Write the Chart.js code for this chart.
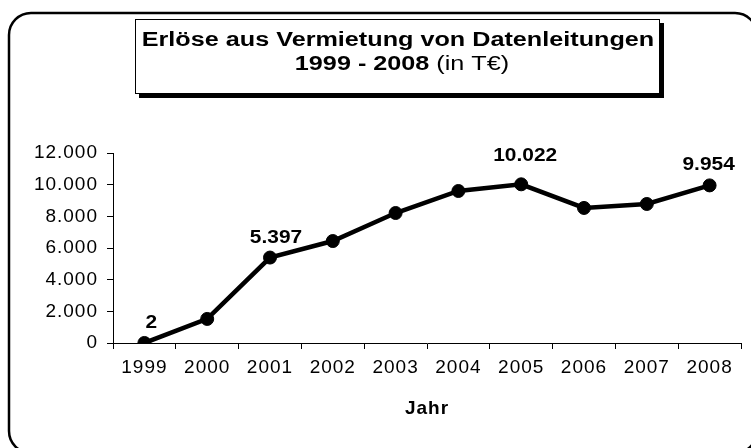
<!DOCTYPE html>
<html>
<head>
<meta charset="utf-8">
<script src="https://cdn.jsdelivr.net/npm/chart.js@4"></script>
<style>
    body { margin: 0; background: #fff; }
    canvas { display: block; }
</style>
</head>
<body>
<canvas id="grafico" width="751" height="448"></canvas>
<script>
// ------------------ DADOS ------------------
const jahre = ["1999", "2000", "2001", "2002", "2003", "2004", "2005", "2006", "2007", "2008"];
const erloese = [2, 1520, 5397, 6440, 8210, 9600, 10022, 8530, 8780, 9954];
const beschriftet = [0, 2, 6, 9]; // punkte mit wertbeschriftung
const yTicks = [0, 2000, 4000, 6000, 8000, 10000, 12000];
const titelZeile1 = "Erlöse aus Vermietung von Datenleitungen";
const titelZeile2Fett = "1999 - 2008 ";
const titelZeile2 = "(in T€)";

// versatz der beschriftungen relativ zum punkt (x, grundlinie)
const labelVersatz = { 0: [7, -15], 2: [6, -15], 6: [4, -23], 9: [-1, -15] };

const FONT = "'Liberation Sans', Arial, sans-serif";
const fmt = v => v.toLocaleString("de-DE");

// text horizontal gestreckt zeichnen
function streckText(ctx, text, x, y, sx) {
    ctx.save();
    ctx.translate(x, y);
    ctx.scale(sx, 1);
    ctx.fillText(text, 0, 0);
    ctx.restore();
}

// ------------------ RAHMEN + TITELBOX ------------------
const rahmenPlugin = {
    id: "rahmen",
    beforeDraw(chart) {
        chart.ctx.letterSpacing = "1px";
    },
    afterDraw(chart) {
        const ctx = chart.ctx;
        ctx.letterSpacing = "0px";
        ctx.save();
        ctx.strokeStyle = "#000";
        ctx.lineWidth = 2.5;
        ctx.beginPath();
        ctx.roundRect(9, 13, 748, 440, 22);
        ctx.stroke();

        // titelbox mit schatten
        ctx.fillStyle = "#000";
        ctx.fillRect(139, 23, 525, 75);
        ctx.fillStyle = "#fff";
        ctx.fillRect(135, 19, 525, 75);
        ctx.lineWidth = 1;
        ctx.strokeRect(135.5, 19.5, 524, 74);

        const sx = 1.26;
        ctx.fillStyle = "#000";
        ctx.textBaseline = "alphabetic";
        ctx.textAlign = "left";
        ctx.font = "bold 20px " + FONT;
        const w1 = ctx.measureText(titelZeile1).width * sx;
        streckText(ctx, titelZeile1, 398 - w1 / 2, 46, sx);

        const wFett = ctx.measureText(titelZeile2Fett).width * sx;
        ctx.font = "20px " + FONT;
        const wNormal = ctx.measureText(titelZeile2).width * sx;
        const x0 = 402 - (wFett + wNormal) / 2;
        ctx.font = "bold 20px " + FONT;
        streckText(ctx, titelZeile2Fett, x0, 70, sx);
        ctx.font = "20px " + FONT;
        streckText(ctx, titelZeile2, x0 + wFett, 70, sx);
        ctx.restore();
    }
};

// ------------------ WERTBESCHRIFTUNGEN ------------------
const labelPlugin = {
    id: "werte",
    afterDatasetsDraw(chart) {
        const ctx = chart.ctx;
        const meta = chart.getDatasetMeta(0);
        ctx.save();
        ctx.letterSpacing = "0px";
        ctx.fillStyle = "#000";
        ctx.font = "bold 19px " + FONT;
        ctx.textAlign = "left";
        ctx.textBaseline = "alphabetic";
        const sx = 1.1;
        beschriftet.forEach(i => {
            const p = meta.data[i];
            const [dx, dy] = labelVersatz[i];
            const txt = fmt(erloese[i]);
            const w = ctx.measureText(txt).width * sx;
            streckText(ctx, txt, p.x + dx - w / 2, p.y + dy, sx);
        });
        ctx.restore();
    }
};

const ctx = document.getElementById("grafico").getContext("2d");
new Chart(ctx, {
    type: "line",
    data: {
        labels: jahre,
        datasets: [{
            data: erloese,
            borderColor: "#000",
            borderWidth: 4.5,
            backgroundColor: "#000",
            pointBackgroundColor: "#000",
            pointBorderColor: "#000",
            pointRadius: 6.5,
            pointBorderWidth: 1,
            tension: 0,
            fill: false
        }]
    },
    options: {
        responsive: false,
        devicePixelRatio: 1,
        animation: false,
        layout: { padding: { left: 0, right: 10, top: 153, bottom: 0 } },
        plugins: {
            legend: { display: false },
            tooltip: { enabled: false }
        },
        scales: {
            x: {
                offset: true,
                afterFit: axis => { axis.height = 105; },
                grid: {
                    offset: true,
                    drawOnChartArea: false,
                    drawTicks: true,
                    tickLength: 6,
                    color: "#000"
                },
                border: { display: true, color: "#000", width: 1 },
                ticks: {
                    color: "#000",
                    padding: 7,
                    maxRotation: 0,
                    autoSkip: false,
                    font: { family: FONT, size: 19 }
                },
                title: {
                    display: true,
                    text: "Jahr",
                    color: "#000",
                    padding: { top: 0, bottom: 28 },
                    font: { family: FONT, size: 19, weight: "bold" }
                }
            },
            y: {
                min: 0,
                max: 12000,
                afterFit: axis => { axis.width = 113; },
                afterBuildTicks: axis => { axis.ticks = yTicks.map(v => ({ value: v })); },
                grid: {
                    drawOnChartArea: false,
                    drawTicks: true,
                    tickLength: 6,
                    color: "#000"
                },
                border: { display: true, color: "#000", width: 1 },
                ticks: {
                    color: "#000",
                    padding: 9,
                    callback: v => fmt(v),
                    font: { family: FONT, size: 19 }
                }
            }
        }
    },
    plugins: [rahmenPlugin, labelPlugin]
});
</script>
</body>
</html>
